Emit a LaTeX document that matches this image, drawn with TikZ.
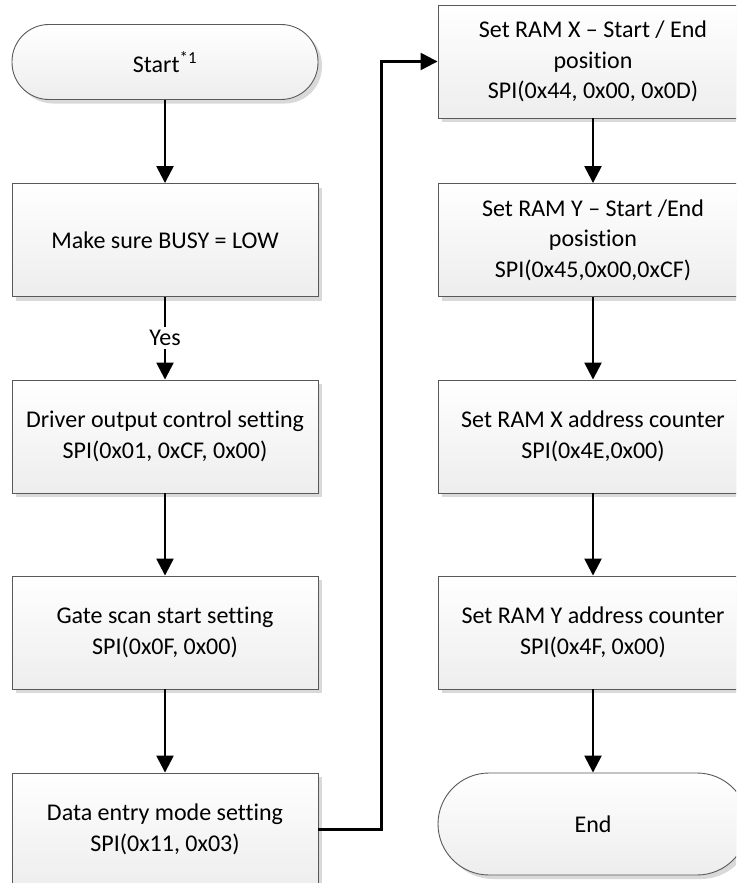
\documentclass[tikz,border=0pt]{standalone}
\usepackage{fontspec}
\setmainfont{Carlito}[Ligatures=NoCommon]
\usetikzlibrary{arrows.meta,shadows}

\begin{document}
\begin{tikzpicture}[%%
  x=1pt,y=-1pt,%%
  arrowStyle/.style={-{Triangle[width=17pt,length=17pt]},line width=2.5pt},%%
  boxStyle/.style={rectangle,draw=black!65,line width=0.9pt,top color=white,bottom color=black!7,%%
    drop shadow={shadow xshift=4pt,shadow yshift=-4pt,fill=black!15,opacity=1},%%
    minimum width=306pt,minimum height=113pt,align=center,font=\fontsize{24}{30.5}\selectfont},%%
  wideStyle/.style={boxStyle,minimum width=310pt},%%
  termStyle/.style={boxStyle,rounded corners=37pt,minimum height=75pt},%%
  labelStyle/.style={fill=white,inner sep=3pt,font=\fontsize{24}{30}\selectfont}%%
]
%%
%%
\pgfmathsetmacro{\xleft}{165}
\pgfmathsetmacro{\xright}{593}
\pgfmathsetmacro{\rowA}{62}
\pgfmathsetmacro{\rowB}{240}
\pgfmathsetmacro{\rowC}{436.5}
\pgfmathsetmacro{\rowD}{632.5}
\pgfmathsetmacro{\rowE}{829.5}
%%
\path[use as bounding box,clip] (0,0) rectangle (736,883);
%%
%% Left column.
\node[termStyle] (start) at (\xleft,\rowA) {Start\textsuperscript{*1}};
\node[boxStyle] (busy) at (\xleft,\rowB) {Make sure BUSY = LOW};
\node[boxStyle] (driver) at (\xleft,\rowC) {Driver output control setting\\SPI(0x01, 0xCF, 0x00)};
\node[boxStyle] (gateScan) at (\xleft,\rowD) {Gate scan start setting\\SPI(0x0F, 0x00)};
\node[boxStyle] (dataEntry) at (\xleft,\rowE) {Data entry mode setting\\SPI(0x11, 0x03)};
%% Right column.
\node[wideStyle] (ramX) at (\xright,61.5) {Set RAM X -- Start / End\\position\\SPI(0x44, 0x00, 0x0D)};
\node[wideStyle] (ramY) at (\xright,\rowB) {Set RAM Y -- Start /End\\posistion\\SPI(0x45,0x00,0xCF)};
\node[wideStyle] (xCounter) at (\xright,\rowC) {Set RAM X address counter\\SPI(0x4E,0x00)};
\node[wideStyle] (yCounter) at (\xright,\rowD) {Set RAM Y address counter\\SPI(0x4F, 0x00)};
\node[termStyle,minimum width=310pt,minimum height=102pt,rounded corners=51pt] (end) at (\xright,824) {End};
%%
%% Draw the connectors.
\draw[arrowStyle] (start) -- (busy);
\draw[arrowStyle] (busy) -- node[labelStyle] {Yes} (driver);
\draw[arrowStyle] (driver) -- (gateScan);
\draw[arrowStyle] (gateScan) -- (dataEntry);
\draw[arrowStyle] (dataEntry.east) -- ++(63,0) |- (ramX.west);
\draw[arrowStyle] (ramX) -- (ramY);
\draw[arrowStyle] (ramY) -- (xCounter);
\draw[arrowStyle] (xCounter) -- (yCounter);
\draw[arrowStyle] (yCounter) -- (end);
\end{tikzpicture}
\end{document}
